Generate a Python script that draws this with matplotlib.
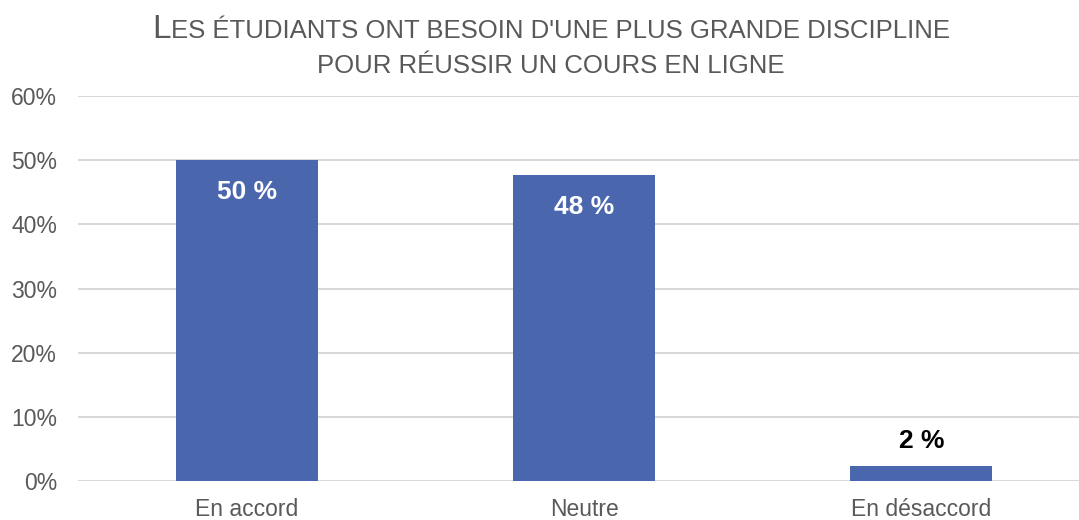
import matplotlib
matplotlib.use('Agg')
import matplotlib.pyplot as plt
from matplotlib.offsetbox import TextArea, HPacker, AnchoredOffsetbox

categories = ['En accord', 'Neutre', 'En désaccord']
values = [50.0, 47.7, 2.3]
labels = ['50 %', '48 %', '2 %']

plt.rcParams['font.family'] = ['Liberation Sans', 'DejaVu Sans']

fig = plt.figure(figsize=(10.79, 5.2), dpi=100)
ax = fig.add_axes([78/1079, (520-481)/520, 1012/1079, 385/520])

bar_color = '#4a66ad'
x = range(len(categories))
ax.bar(x, values, width=0.42, color=bar_color, zorder=3)
ax.set_xlim(-0.5, 2.5)
ax.set_ylim(0, 60)
ax.set_yticks(range(0, 61, 10))
ax.set_yticklabels([f'{t}%' for t in range(0, 61, 10)])
ax.set_xticks(list(x))
ax.set_xticklabels(categories)
ax.grid(axis='y', color='#d9d9d9', linewidth=1.5, zorder=0)
for s in ax.spines.values():
    s.set_visible(False)
ax.tick_params(axis='both', length=0, labelsize=16.5, labelcolor='#595959')
ax.tick_params(axis='y', pad=15)
ax.tick_params(axis='x', pad=12)

for i, (v, lab) in enumerate(zip(values, labels)):
    if v > 10:
        ax.annotate(lab, (i, v), xytext=(0, -23), textcoords='offset points', ha='center', va='center',
                    color='white', fontsize=19, fontweight='bold')
    else:
        ax.annotate(lab, (i, v), xytext=(0, 18), textcoords='offset points', ha='center', va='center',
                    color='black', fontsize=19, fontweight='bold')

# small caps title
tfont = ['Liberation Sans', 'DejaVu Sans']
big = dict(fontsize=24, color='#595959', family=tfont)
small = dict(fontsize=18.5, color='#595959', family=tfont)
line1 = HPacker(children=[TextArea('L', textprops=big),
                          TextArea("ES ÉTUDIANTS ONT BESOIN D'UNE PLUS GRANDE DISCIPLINE", textprops=small)],
                align='baseline', pad=0, sep=0)
line2 = TextArea('POUR RÉUSSIR UN COURS EN LIGNE', textprops=small)
for box, yc in [(line1, 30), (line2, 66)]:
    ab = AnchoredOffsetbox(loc='center', child=box, bbox_to_anchor=(551/1079, 1 - yc/520),
                           bbox_transform=fig.transFigure, frameon=False, pad=0, borderpad=0)
    fig.add_artist(ab)

fig.savefig('out.png', dpi=100)
